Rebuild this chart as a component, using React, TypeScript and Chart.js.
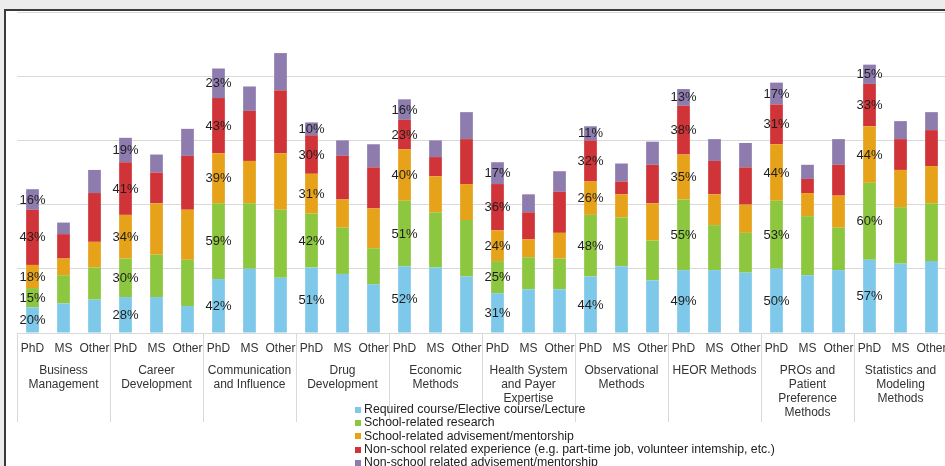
import React, { useEffect, useRef } from 'react';
import { Chart, registerables } from 'chart.js';

Chart.register(...registerables);

const FONT = '"Liberation Sans", Arial, sans-serif';

const groupLabels = [
  ['Business', 'Management'],
  ['Career', 'Development'],
  ['Communication', 'and Influence'],
  ['Drug', 'Development'],
  ['Economic', 'Methods'],
  ['Health System', 'and Payer', 'Expertise'],
  ['Observational', 'Methods'],
  ['HEOR Methods'],
  ['PROs and', 'Patient', 'Preference', 'Methods'],
  ['Statistics and', 'Modeling', 'Methods'],
];
const degreeLabels = ['PhD', 'MS', 'Other'];
const tickLabels = groupLabels.flatMap(() => degreeLabels);

const seriesNames = [
  'Required course/Elective course/Lecture',
  'School-related research',
  'School-related advisement/mentorship',
  'Non-school related experience (e.g. part-time job, volunteer intemship, etc.)',
  'Non-school related advisement/mentorship',
];
const seriesColors = ['#7ec9ea', '#8dc63f', '#e6a219', '#d03438', '#8e7caf'];

// values in % (PhD, MS, Other per group)
const required = [20, 23, 26, 28, 28, 21, 42, 50, 43, 51, 46, 38, 52, 51, 44, 31, 34, 34, 44, 52, 41, 49, 49, 47, 50, 45, 49, 57, 54, 56];
const research = [15, 22, 25, 30, 33, 36, 59, 51, 53, 42, 36, 28, 51, 43, 44, 25, 25, 24, 48, 38, 31, 55, 35, 31, 53, 46, 33, 60, 44, 45];
const advisement = [18, 13, 20, 34, 40, 39, 39, 33, 44, 31, 22, 31, 40, 28, 28, 24, 14, 20, 26, 18, 29, 35, 24, 22, 44, 18, 25, 44, 29, 29];
const nonSchoolExp = [43, 19, 38, 41, 24, 42, 43, 39, 49, 30, 34, 32, 23, 15, 35, 36, 21, 32, 32, 10, 30, 38, 26, 29, 31, 11, 24, 33, 24, 28];
const nonSchoolAdv = [16, 9, 18, 19, 14, 21, 23, 19, 29, 10, 12, 18, 16, 13, 21, 17, 14, 16, 11, 14, 18, 13, 17, 19, 17, 11, 20, 15, 14, 14];

const seriesData = [required, research, advisement, nonSchoolExp, nonSchoolAdv];

const pctLabelPlugin = {
  id: 'pctLabels',
  afterDatasetsDraw(chart: any) {
    const ctx = chart.ctx;
    ctx.save();
    ctx.font = `13px ${FONT}`;
    ctx.fillStyle = '#1e1e1e';
    ctx.textAlign = 'center';
    ctx.textBaseline = 'middle';
    chart.data.datasets.forEach((ds: any, di: number) => {
      const meta = chart.getDatasetMeta(di);
      meta.data.forEach((bar: any, i: number) => {
        if (i % 3 !== 0) return;
        const { x, y, base } = bar.getProps(['x', 'y', 'base'], true);
        ctx.fillText(`${ds.data[i]}%`, x, (y + base) / 2 + 0.5);
      });
    });
    ctx.restore();
  },
};

export default function App() {
  const canvasRef = useRef<HTMLCanvasElement | null>(null);

  useEffect(() => {
    if (!canvasRef.current) return;
    const chart = new Chart(canvasRef.current, {
      type: 'bar',
      data: {
        labels: tickLabels,
        datasets: seriesData.map((d, i) => ({
          label: seriesNames[i],
          data: d,
          backgroundColor: seriesColors[i],
          borderWidth: 0,
          barPercentage: 0.41,
          categoryPercentage: 1.0,
          xAxisID: 'x',
          yAxisID: 'y',
        })),
      },
      options: {
        responsive: false,
        animation: false,
        layout: { padding: { left: 17, right: 13, top: 12, bottom: 9 } },
        plugins: { legend: { display: false }, tooltip: { enabled: false } },
        scales: {
          x: {
            type: 'category',
            stacked: true,
            offset: true,
            grid: {
              offset: true,
              drawOnChartArea: false,
              drawTicks: true,
              tickLength: 89,
              color: (c: any) => (c.index % 3 === 0 ? '#d9d9d9' : 'rgba(0,0,0,0)'),
            },
            border: { display: true, color: '#d9d9d9' },
            ticks: {
              autoSkip: false,
              maxRotation: 0,
              minRotation: 0,
              padding: -81,
              color: '#333',
              font: { family: FONT, size: 12 },
            },
            afterFit: (s: any) => {
              s.height = 24;
            },
          },
          x2: {
            type: 'category',
            labels: groupLabels as any,
            position: 'bottom',
            offset: true,
            grid: { display: false, drawTicks: false, tickLength: 0 },
            border: { display: false },
            ticks: {
              autoSkip: false,
              maxRotation: 0,
              minRotation: 0,
              padding: 7,
              color: '#333',
              font: { family: FONT, size: 12, lineHeight: 14 / 12 },
            },
            afterFit: (s: any) => {
              s.height = 100;
            },
          },
          y: {
            stacked: true,
            min: 0,
            max: 250,
            ticks: { display: false, stepSize: 50 },
            grid: { color: '#d9d9d9', drawTicks: false },
            border: { display: false },
            afterFit: (s: any) => {
              s.width = 0;
            },
          },
        },
      } as any,
      plugins: [pctLabelPlugin],
    });
    return () => chart.destroy();
  }, []);

  return (
    <div
      style={{
        position: 'fixed',
        left: 0,
        top: 0,
        width: 945,
        height: 466,
        overflow: 'hidden',
        background: '#ececec',
      }}
    >
      <div
        style={{
          position: 'absolute',
          left: 4,
          top: 9,
          width: 1000,
          height: 500,
          background: '#ffffff',
          borderLeft: '2px solid #3a3a3a',
          borderTop: '2px solid #3a3a3a',
        }}
      />
      <div style={{ position: 'absolute', left: 0, top: 0, width: 960, height: 466 }}>
        <canvas ref={canvasRef} width={960} height={466} style={{ display: 'block' }} />
      </div>
      <div
        style={{
          position: 'absolute',
          left: 355,
          top: 403,
          fontFamily: FONT,
          fontSize: 12.3,
          color: '#222',
          whiteSpace: 'nowrap',
        }}
      >
        {seriesNames.map((name, i) => (
          <div key={name} style={{ height: 13.33, lineHeight: '13.33px', display: 'flex', alignItems: 'center' }}>
            <span
              style={{
                display: 'inline-block',
                width: 6,
                height: 6,
                background: seriesColors[i],
                marginRight: 3,
              }}
            />
            <span>{name}</span>
          </div>
        ))}
      </div>
    </div>
  );
}
